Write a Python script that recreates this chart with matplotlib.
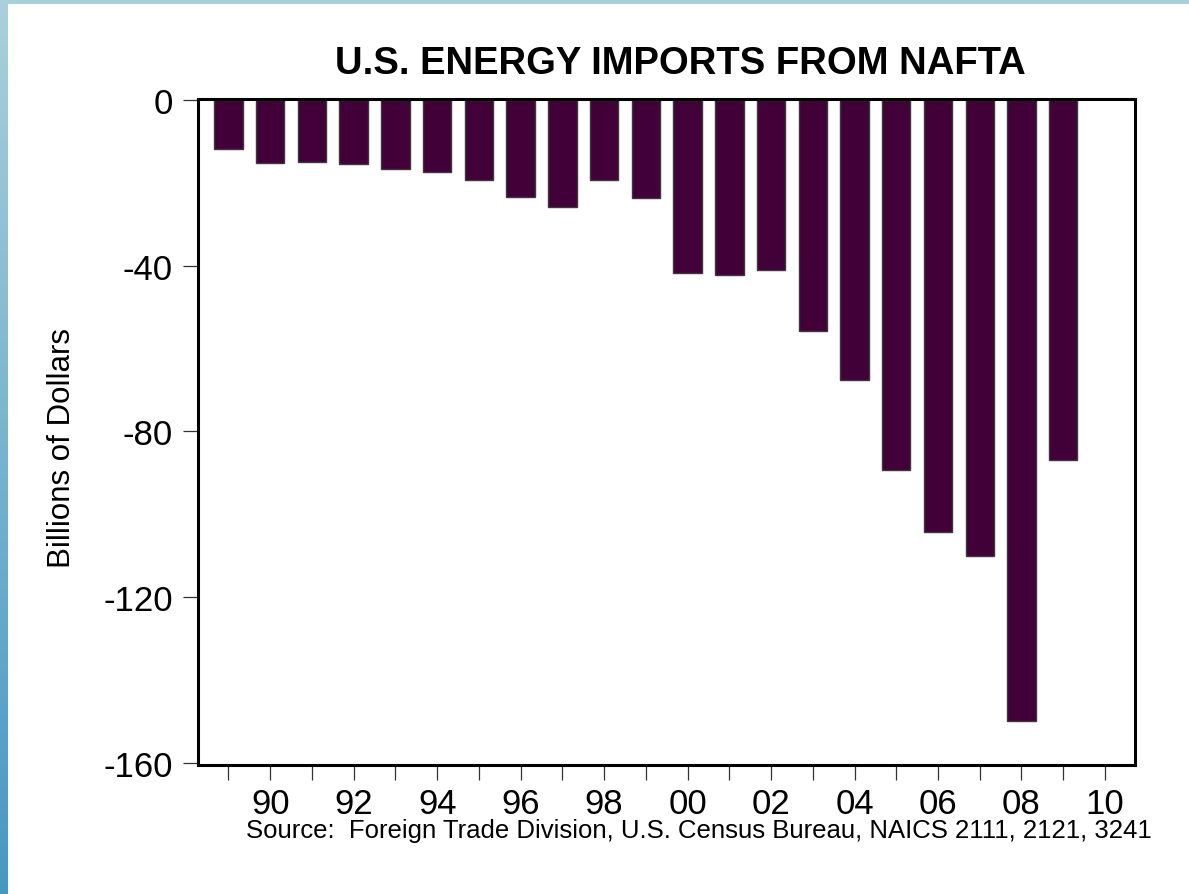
import numpy as np
import matplotlib.pyplot as plt
from matplotlib.colors import LinearSegmentedColormap

plt.rcParams['font.family'] = ['Liberation Sans', 'DejaVu Sans']

# energy imports from NAFTA, billions of dollars (negative = imports)
years = np.arange(1989, 2010)
imports = [-11.8, -15.2, -15.0, -15.3, -16.7, -17.4, -19.2, -23.4, -25.9, -19.3,
           -23.5, -41.8, -42.1, -40.9, -55.8, -67.7, -89.3, -104.3, -110.0, -150.0,
           -86.8]
tick_years = np.arange(1989, 2011)
y_ticks = [0, -40, -80, -120, -160]

fig = plt.figure(figsize=(11.89, 8.95), dpi=100)
fig.patch.set_facecolor('white')

# blue frame strips (top and left) like the slide background
top = fig.add_axes([0, 1 - 5 / 895, 1, 5 / 895])
top.set_facecolor('#a9cfdb')
top.set_xticks([]); top.set_yticks([])
for s in top.spines.values():
    s.set_visible(False)
left = fig.add_axes([0, 0, 8 / 1189, 1])
grad = np.linspace(0, 1, 256).reshape(-1, 1)
cmap = LinearSegmentedColormap.from_list('edge', ['#aad0dc', '#4698c3'])
left.imshow(grad, aspect='auto', cmap=cmap, extent=[0, 1, 0, 1], origin='upper')
left.set_xticks([]); left.set_yticks([])
for s in left.spines.values():
    s.set_visible(False)

ax = fig.add_axes([198 / 1189, 1 - 766 / 895, (1135 - 198) / 1189, (766 - 100) / 895])
ax.bar(years, imports, width=0.68, color='#420039', edgecolor='#3a3a3a', linewidth=1)

ax.set_xlim(1988.27, 2010.72)
ax.set_ylim(-160.6, 0.3)
ax.set_yticks(y_ticks)
ax.set_yticklabels([str(v) for v in y_ticks])
ax.set_xticks(tick_years)
ax.set_xticklabels([f'{y % 100:02d}' if y % 2 == 0 else '' for y in tick_years])
ax.tick_params(axis='both', direction='out', labelsize=25, length=11, width=0.9,
               color='#333333')
ax.tick_params(axis='y', pad=7)
ax.tick_params(axis='x', pad=5)
for s in ax.spines.values():
    s.set_linewidth(2.2)
    s.set_color('black')

fig.text(680 / 1189, 1 - 74 / 895, 'U.S. ENERGY IMPORTS FROM NAFTA', ha='center',
         va='baseline', fontsize=27.5, fontweight='bold')
fig.text(62 / 1189, 1 - 448 / 895, 'Billions of Dollars', rotation=90, ha='center',
         va='center', fontsize=22.5)
fig.text(699 / 1189, 1 - 838 / 895,
         'Source:  Foreign Trade Division, U.S. Census Bureau, NAICS 2111, 2121, 3241',
         ha='center', va='baseline', fontsize=18.5)

fig.savefig('out.png', dpi=100)
